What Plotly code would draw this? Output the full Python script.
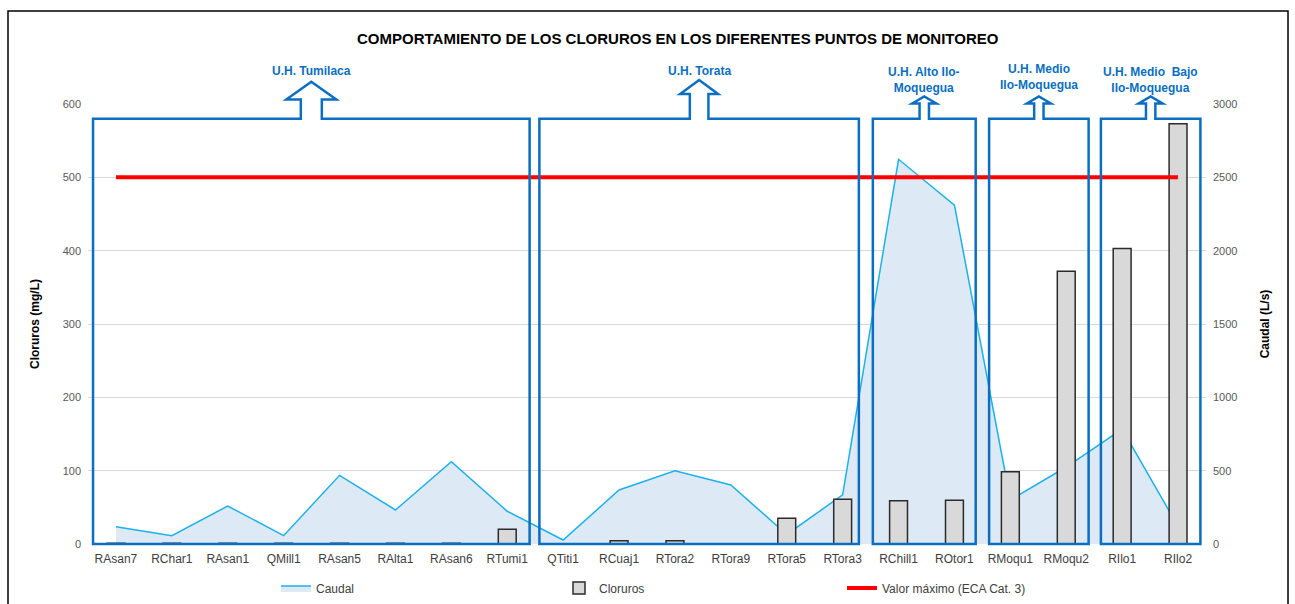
import plotly.graph_objects as go

# ---------------- data ----------------
categories = ["RAsan7", "RChar1", "RAsan1", "QMill1", "RAsan5", "RAlta1", "RAsan6", "RTumi1",
              "QTiti1", "RCuaj1", "RTora2", "RTora9", "RTora5", "RTora3",
              "RChill1", "ROtor1", "RMoqu1", "RMoqu2", "RIlo1", "RIlo2"]
caudal = [118, 57, 259, 57, 468, 232, 561, 223,
          27, 368, 500, 402, 65, 335,
          2623, 2311, 300, 525, 784, 120]
cloruros = [1, 1, 1, 1, 1, 1, 1, 20,
            None, 4.5, 4.5, None, 35, 61,
            59, 59.5, 98.6, 372, 403, 573]
eca_max = [500] * len(categories)

groups = ["U.H. Tumilaca", "U.H. Torata", "U.H. Alto Ilo-<br>Moquegua",
          "U.H. Medio<br>Ilo-Moquegua", "U.H. Medio  Bajo<br>Ilo-Moquegua"]
group_first = [0, 8, 14, 16, 18]
group_last = [7, 13, 15, 17, 19]

# ---------------- layout geometry ----------------
W, H = 1295, 604
ML, MR, MT, MB = 88, 89, 104, 60
PW, PH = W - ML - MR, H - MT - MB
N = len(categories)
xidx = list(range(N))


def xp(pix):
    return (pix - ML) / PW


def yp(pix):
    return (H - MB - pix) / PH


def idx2pix(i):
    return ML + (i + 0.5) / N * PW


BLUE = "#0a6fc2"

fig = go.Figure()
fig.add_trace(go.Scatter(
    x=xidx, y=caudal, name="Caudal", mode="lines", yaxis="y",
    fill="tozeroy", fillcolor="#dde9f5",
    line=dict(color="#1cb1ea", width=1.5)))
fig.add_trace(go.Bar(
    x=xidx, y=cloruros, name="Cloruros", yaxis="y2", width=0.32,
    marker=dict(color="#d9d9d9", line=dict(color="#2b2b2b", width=1.5))))
fig.add_trace(go.Scatter(
    x=xidx, y=eca_max, name="Valor máximo (ECA Cat. 3)", mode="lines", yaxis="y2",
    line=dict(color="#ff0000", width=4)))

# ---------------- group boxes with arrows ----------------
box_pad_left = [0.41, 0.425, 0.46, 0.38, 0.38]
box_pad_right = [0.40, 0.29, 0.38, 0.40, 0.40]
stem_half = [10.5, 9.3, 4.7, 4.7, 4.7]
wing_half = [25, 19, 12, 12, 12]
wing_y = [99.5, 94, 103.5, 103.5, 103.5]
tip_y = [81.7, 80, 96.5, 96.5, 96.5]
label_y = [71, 71, 80, 77, 80]
box_top_val = 580

shapes = []
annotations = []
for g in range(len(groups)):
    x0 = idx2pix(group_first[g] - box_pad_left[g])
    x1 = idx2pix(group_last[g] + box_pad_right[g])
    yb = H - MB
    yt = H - MB - box_top_val / 600 * PH
    cx = (x0 + x1) / 2
    pts = [(x0, yb), (x0, yt), (cx - stem_half[g], yt), (cx - stem_half[g], wing_y[g]),
           (cx - wing_half[g], wing_y[g]), (cx, tip_y[g]), (cx + wing_half[g], wing_y[g]),
           (cx + stem_half[g], wing_y[g]), (cx + stem_half[g], yt), (x1, yt), (x1, yb)]
    path = "M " + " L ".join(f"{xp(a):.5f},{yp(b):.5f}" for a, b in pts) + " Z"
    shapes.append(dict(type="path", path=path, xref="paper", yref="paper",
                       line=dict(color=BLUE, width=2.5), layer="above"))
    annotations.append(dict(text=f"<b>{groups[g]}</b>", x=xp(cx), y=yp(label_y[g]),
                            xref="paper", yref="paper", showarrow=False,
                            font=dict(size=12, color=BLUE), xanchor="center", yanchor="middle"))

# outer frame
shapes.append(dict(type="rect", xref="paper", yref="paper", x0=xp(8), x1=xp(1288),
                   y0=yp(612), y1=yp(11), line=dict(color="black", width=1.5), layer="below"))

annotations.append(dict(text="<b>COMPORTAMIENTO DE LOS CLORUROS EN LOS DIFERENTES PUNTOS DE MONITOREO</b>",
                        x=xp(678), y=yp(38), xref="paper", yref="paper", showarrow=False,
                        font=dict(size=15, color="black"), xanchor="center", yanchor="middle"))

fig.update_layout(
    width=W, height=H, autosize=False,
    margin=dict(l=ML, r=MR, t=MT, b=MB, autoexpand=False),
    paper_bgcolor="white", plot_bgcolor="white",
    font=dict(family="Arial, Liberation Sans, sans-serif", size=12, color="#404040"),
    xaxis=dict(range=[-0.5, N - 0.5], tickvals=xidx, ticktext=categories, showgrid=False,
               zeroline=False, showline=False, ticks="", ticklabelstandoff=6,
               tickfont=dict(size=12, color="#404040")),
    yaxis=dict(side="right", range=[0, 3000], dtick=500, showgrid=True, gridcolor="#d9d9d9",
               gridwidth=1, zeroline=False, ticks="", ticklabelstandoff=6,
               tickfont=dict(size=11, color="#595959"),
               title=dict(text="<b>Caudal (L/s)</b>", font=dict(size=12, color="black"), standoff=24)),
    yaxis2=dict(side="left", overlaying="y", range=[0, 600], dtick=100, showgrid=False,
                zeroline=False, ticks="", ticklabelstandoff=6,
                tickfont=dict(size=11, color="#595959"),
                title=dict(text="<b>Cloruros (mg/L)</b>", font=dict(size=12, color="black"), standoff=20)),
    barmode="overlay",
    legend=dict(orientation="h", x=xp(276), y=yp(588), xanchor="left", yanchor="middle",
                entrywidth=238, entrywidthmode="pixels", font=dict(size=12, color="#404040"),
                traceorder="normal"),
    shapes=shapes, annotations=annotations,
    showlegend=True,
)

fig.write_html("out.html", config={"displayModeBar": False},
               post_script="document.body.style.margin='0';document.body.style.overflow='hidden';")
